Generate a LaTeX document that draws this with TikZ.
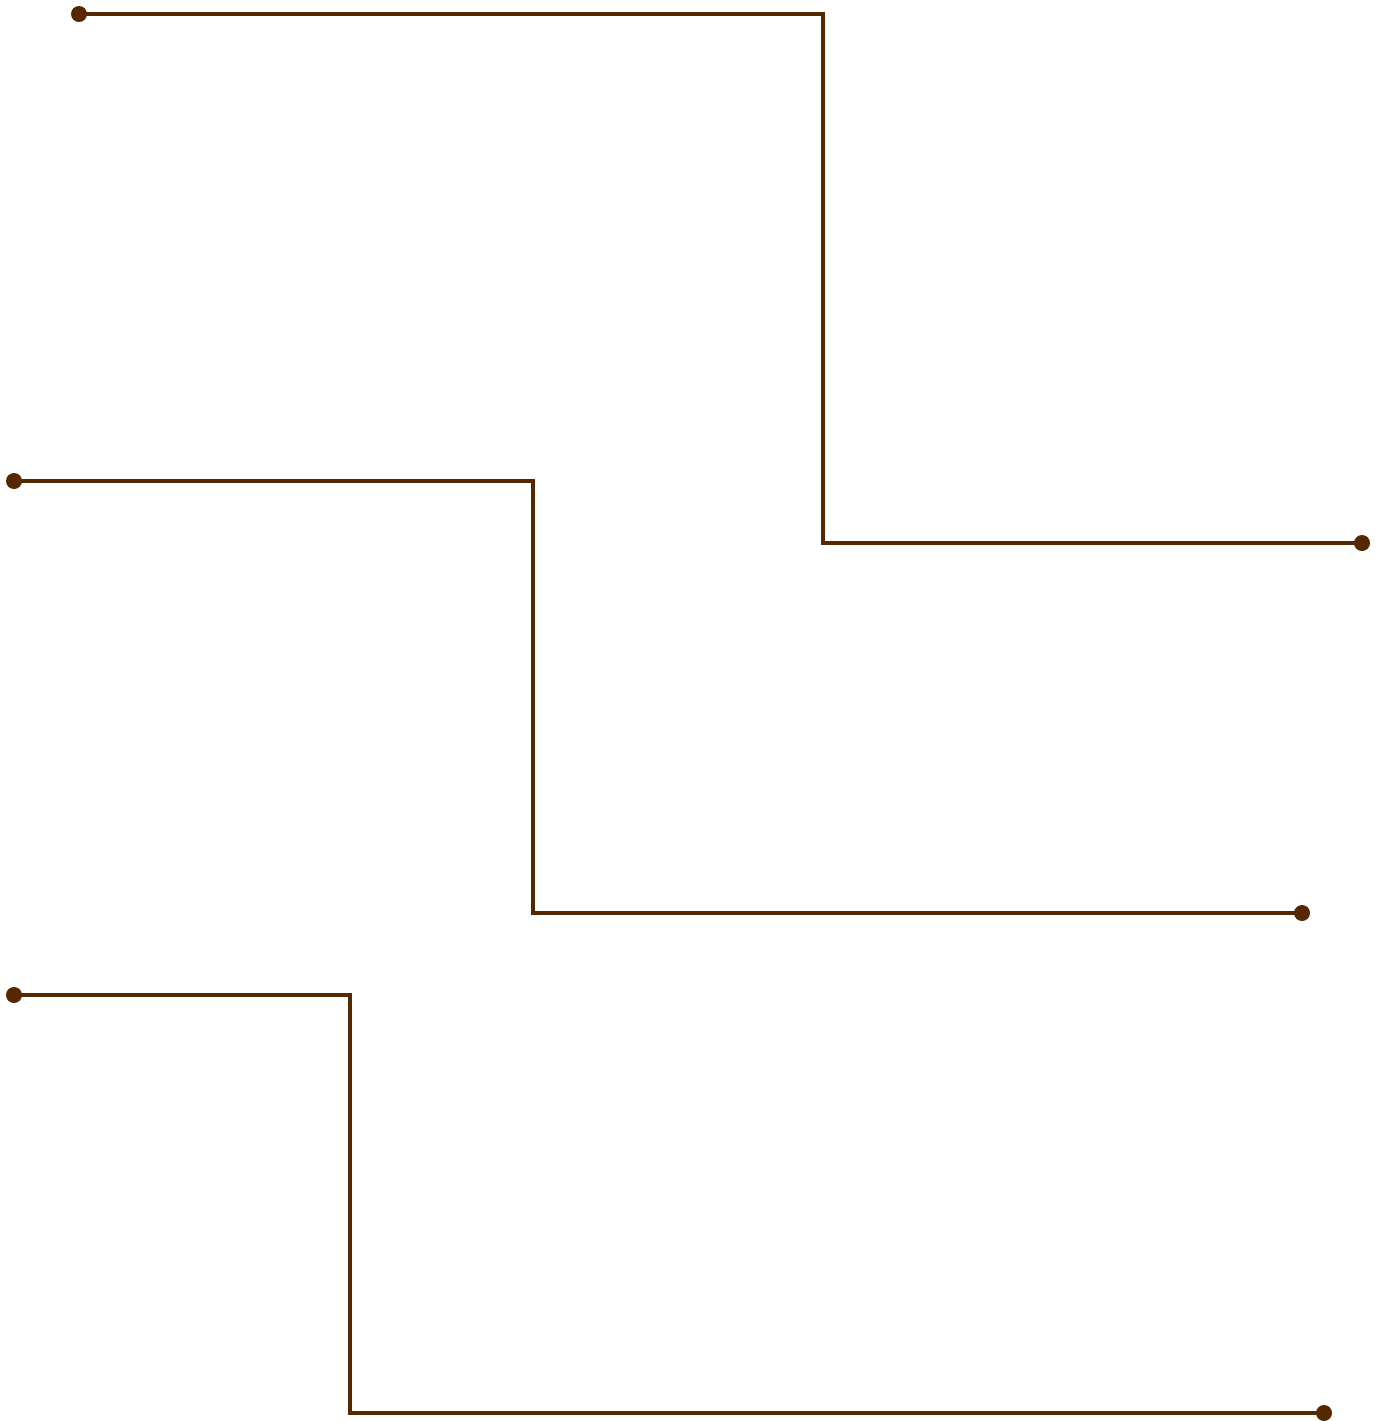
\documentclass[tikz,border=0pt]{standalone}
\definecolor{wire}{HTML}{552800}
\begin{document}
\begin{tikzpicture}[x=0.5pt,y=-0.5pt,
  dot/.style={circle,fill=wire,draw=none,inner sep=0pt,minimum size=8pt},
  wireline/.style={draw=wire,line width=2pt}]
\useasboundingbox (0,0) rectangle (1383,1421);
% path 1
\node[dot] (a1) at (79,14) {};
\node[dot] (b1) at (1362,543) {};
\coordinate (m1) at (823,0);
\draw[wireline] (a1.center) -| (m1 |- b1) -- (b1.center);
% path 2
\node[dot] (a2) at (14,481) {};
\node[dot] (b2) at (1302,913) {};
\coordinate (m2) at (533,0);
\draw[wireline] (a2.center) -| (m2 |- b2) -- (b2.center);
% path 3
\node[dot] (a3) at (14,995) {};
\node[dot] (b3) at (1324,1413) {};
\coordinate (m3) at (350,0);
\draw[wireline] (a3.center) -| (m3 |- b3) -- (b3.center);
\end{tikzpicture}
\end{document}
